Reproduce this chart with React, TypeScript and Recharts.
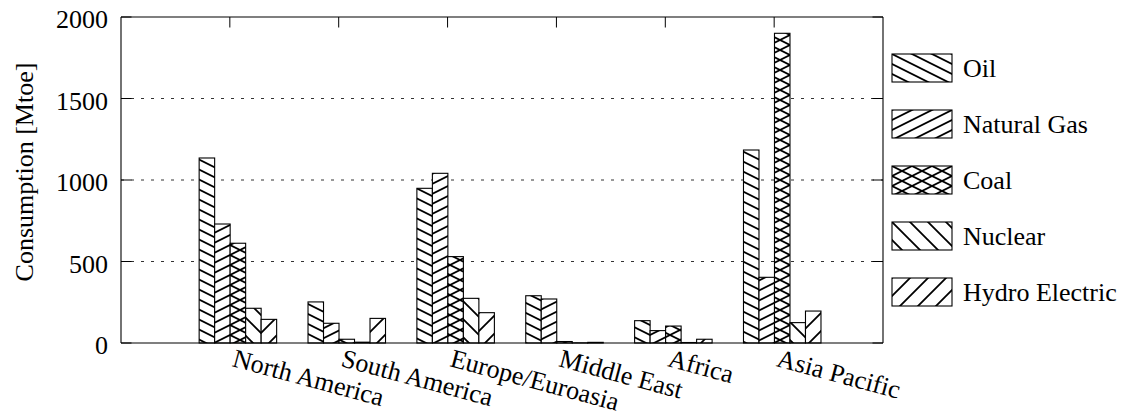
import React from 'react'
import { BarChart, Bar, XAxis, YAxis, CartesianGrid } from 'recharts'

// Primary energy consumption by region [Mtoe]
const regions = ['North America', 'South America', 'Europe/Euroasia', 'Middle East', 'Africa', 'Asia Pacific']
const oil = [1135, 252, 949, 290, 137, 1184]
const naturalGas = [730, 121, 1041, 270, 76, 403]
const coal = [612, 23, 530, 9, 104, 1900]
const nuclear = [213, 5, 274, 1, 3, 125]
const hydroElectric = [145, 151, 186, 4, 23, 196]
const yTicks = [0, 500, 1000, 1500, 2000]
const yTitle = 'Consumption [Mtoe]'

const series = [
  { key: 'oil', name: 'Oil', values: oil },
  { key: 'gas', name: 'Natural Gas', values: naturalGas },
  { key: 'coal', name: 'Coal', values: coal },
  { key: 'nuclear', name: 'Nuclear', values: nuclear },
  { key: 'hydro', name: 'Hydro Electric', values: hydroElectric },
]

const data = regions.map((region, i) => {
  const row: Record<string, string | number> = { region }
  series.forEach(s => { row[s.key] = s.values[i] })
  return row
})

// hatch styles: tile size and line directions
const hatch: Record<string, { w: number; h: number; dirs: string[] }> = {
  oil: { w: 20, h: 10, dirs: ['down'] },
  gas: { w: 20, h: 10, dirs: ['up'] },
  coal: { w: 20, h: 10, dirs: ['down', 'up'] },
  nuclear: { w: 18, h: 18, dirs: ['down'] },
  hydro: { w: 18, h: 18, dirs: ['up'] },
}

const FONT = "'Liberation Serif', 'DejaVu Serif', serif"
const FS = 26
const TICK = 10.5 // inward tick length

function hatchPath(w: number, h: number, dir: string) {
  if (dir === 'down') {
    return `M${-w},${-h} L${2 * w},${2 * h} M${-w},0 L${w},${2 * h} M0,${-h} L${2 * w},${h}`
  }
  return `M${-w},${2 * h} L${2 * w},${-h} M${-w},${h} L${w},${-h} M0,${2 * h} L${2 * w},0`
}

function Patterns() {
  return (
    <defs>
      {series.map(s => {
        const p = hatch[s.key]
        return (
          <pattern key={s.key} id={`pat-${s.key}`} patternUnits="userSpaceOnUse" width={p.w} height={p.h}>
            <rect width={p.w} height={p.h} fill="#fff" />
            {p.dirs.map(d => (
              <path key={d} d={hatchPath(p.w, p.h, d)} stroke="#000" strokeWidth={1.8} fill="none" />
            ))}
          </pattern>
        )
      })}
    </defs>
  )
}

// bars sit half a bar to the right of the category tick, like the original
const HatchBar = (props: any) => {
  const { x, y, width, height, fill } = props
  if (x == null || y == null) return null
  const h = Math.max(height || 0, 0)
  return (
    <rect x={x + width / 2} y={y} width={width} height={h} fill={fill} stroke="#000" strokeWidth={1.1} />
  )
}

const RegionTick = (props: any) => {
  const { x, y, payload } = props
  return (
    <g transform={`translate(${x},${y}) rotate(15)`}>
      <text x={6} y={17} fontSize={FS} fontFamily={FONT} fill="#000" textAnchor="start">
        {payload.value}
      </text>
    </g>
  )
}

// label 13px left of the axis, plus an inward tick mark
const ValueTick = (props: any) => {
  const { x, y, payload } = props
  return (
    <g>
      <line x1={x + 13} x2={x + 13 + TICK} y1={y} y2={y} stroke="#000" strokeWidth={1} />
      <text x={x} y={y} dy={11} fontSize={FS} fontFamily={FONT} fill="#000" textAnchor="end">
        {payload.value}
      </text>
    </g>
  )
}

const TopTick = (props: any) => {
  const { x, y } = props
  return <line x1={x} x2={x} y1={y} y2={y + TICK} stroke="#000" strokeWidth={1} />
}

const RightTick = (props: any) => {
  const { x, y } = props
  return <line x1={x - TICK} x2={x} y1={y} y2={y} stroke="#000" strokeWidth={1} />
}

export default function App() {
  return (
    <div style={{ position: 'absolute', left: 0, top: 0, width: 1140, height: 416, background: '#fff', fontFamily: FONT }}>
      <BarChart
        width={1140}
        height={416}
        data={data}
        margin={{ top: 16, right: 256, bottom: 43, left: 61 }}
        barSize={15.5}
        barGap={0}
        barCategoryGap={0}
      >
        <defs>
          <Patterns />
        </defs>
        <CartesianGrid xAxisId="b" yAxisId="y" vertical={false} horizontalValues={[500, 1000, 1500]} stroke="#333" strokeDasharray="3 7" />
        <XAxis
          xAxisId="b"
          dataKey="region"
          padding={{ left: 54.4, right: 54.4 }}
          height={30}
          interval={0}
          axisLine={{ stroke: '#000', strokeWidth: 1.1 }}
          tickLine={false}
          tickSize={0}
          tickMargin={5}
          tick={<RegionTick />}
        />
        <XAxis
          xAxisId="t"
          orientation="top"
          dataKey="region"
          padding={{ left: 54.4, right: 54.4 }}
          height={1}
          interval={0}
          axisLine={{ stroke: '#000', strokeWidth: 1.1 }}
          tickLine={false}
          tickSize={0}
          tickMargin={0}
          tick={<TopTick />}
        />
        <YAxis
          yAxisId="y"
          domain={[0, 2000]}
          ticks={yTicks}
          width={60}
          interval={0}
          axisLine={{ stroke: '#000', strokeWidth: 1.1 }}
          tickLine={false}
          tickSize={0}
          tickMargin={13}
          tick={<ValueTick />}
        />
        <YAxis
          yAxisId="r"
          orientation="right"
          type="number"
          domain={[0, 2000]}
          allowDataOverflow
          ticks={yTicks}
          width={1}
          interval={0}
          axisLine={{ stroke: '#000', strokeWidth: 1.1 }}
          tickLine={false}
          tickSize={0}
          tickMargin={0}
          tick={<RightTick />}
        />
        {series.map(s => (
          <Bar
            key={s.key}
            xAxisId="b"
            yAxisId="y"
            dataKey={s.key}
            name={s.name}
            fill={`url(#pat-${s.key})`}
            shape={HatchBar}
            isAnimationActive={false}
          />
        ))}
      </BarChart>
      <svg width={1140} height={416} style={{ position: 'absolute', left: 0, top: 0, pointerEvents: 'none' }}>
        <Patterns />
        <text
          transform="translate(33,172) rotate(-90)"
          textAnchor="middle"
          fontSize={FS}
          fontFamily={FONT}
          fill="#000"
        >
          {yTitle}
        </text>
        {series.map((s, i) => (
          <g key={s.key} transform={`translate(892,${54 + i * 56})`}>
            <rect width={60} height={28} fill={`url(#pat-${s.key})`} stroke="#000" strokeWidth={1.1} />
            <text x={71} y={14} dy={9} fontSize={FS} fontFamily={FONT} fill="#000">
              {s.name}
            </text>
          </g>
        ))}
      </svg>
    </div>
  )
}
